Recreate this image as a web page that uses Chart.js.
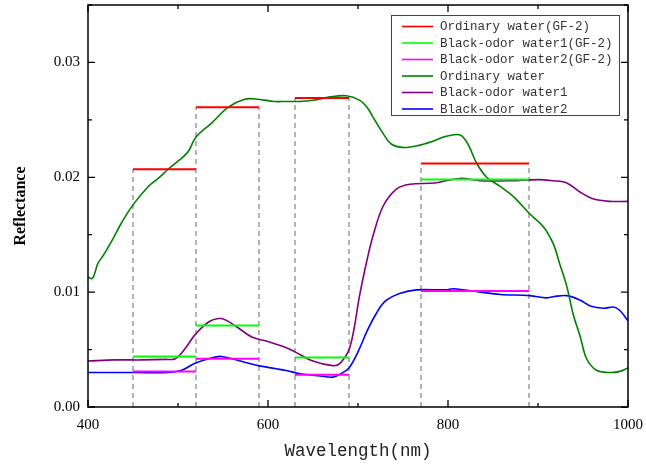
<!DOCTYPE html>
<html>
<head>
<meta charset="utf-8">
<script src="https://cdn.jsdelivr.net/npm/chart.js@4.4.0/dist/chart.umd.min.js"></script>
<style>
html,body{margin:0;padding:0;background:#fff;}
#wrap{width:646px;height:466px;position:relative;}
</style>
</head>
<body>
<div id="wrap"><canvas id="c" width="646" height="466"></canvas></div>
<script>
// ---- Data ----
const bandStart = [450, 520, 630, 770];
const bandEnd   = [520, 590, 690, 890];
const ordinaryGF2 = [0.0207, 0.0261, 0.0269, 0.0212];
const blackOdor1GF2 = [0.0044, 0.0071, 0.0043, 0.0198];
const blackOdor2GF2 = [0.0031, 0.0042, 0.0028, 0.0101];

const ordinaryWl = [400,405,411,417,426,437,450,467,478,489,500,511,520,537,556,574,589,607,620,635,650,669,687,702,710,717,728,737,750,769,782,795,806,813,819,824,832,843,858,873,891,906,917,924,932,939,947,954,965,980,991,1000];
const ordinaryR  = [0.0113,0.0112,0.0125,0.0132,0.0144,0.0160,0.0176,0.0192,0.0199,0.0207,0.0214,0.0222,0.0235,0.0247,0.0261,0.0268,0.0268,0.0266,0.0266,0.0266,0.0267,0.0270,0.0271,0.0267,0.0261,0.0252,0.0238,0.0229,0.0226,0.0228,0.0231,0.0235,0.0237,0.0237,0.0233,0.0226,0.0212,0.0200,0.0192,0.0183,0.0168,0.0157,0.0142,0.0125,0.0105,0.0081,0.0061,0.0042,0.0032,0.0030,0.0031,0.0034];

const blackOdor1Wl = [400,430,460,486,497,508,519,534,548,563,582,600,619,630,650,672,680,691,702,710,717,728,743,758,785,813,836,870,900,917,932,947,962,980,1000];
const blackOdor1R  = [0.0040,0.0041,0.0041,0.00415,0.0042,0.0051,0.0063,0.0074,0.0077,0.0071,0.0061,0.0057,0.0052,0.0048,0.0040,0.0036,0.0038,0.0052,0.0098,0.0128,0.0150,0.0175,0.0190,0.0194,0.0195,0.0199,0.0197,0.0197,0.0198,0.0197,0.0195,0.0187,0.0181,0.0179,0.0179];

const blackOdor2Wl = [400,450,489,504,519,534,548,574,589,619,636,658,672,681,690,700,710,720,730,747,765,798,806,836,858,891,909,917,932,947,958,973,984,991,1000];
const blackOdor2R  = [0.0030,0.0030,0.0030,0.0032,0.0038,0.0042,0.0044,0.0039,0.0036,0.0032,0.0029,0.0027,0.0026,0.0029,0.0034,0.0048,0.0066,0.0081,0.0092,0.0099,0.0102,0.0102,0.0103,0.0100,0.0098,0.0097,0.0095,0.0096,0.0097,0.0093,0.0088,0.0086,0.0087,0.0084,0.0075];

const xTickLabels = [400, 600, 800, 1000];
const yTickLabels = [0.00, 0.01, 0.02, 0.03];

// ---- Build helpers ----
function pairs(xs, ys){ return xs.map((x,i)=>({x:x, y:ys[i]})); }
function segments(vals){
  const pts = [];
  bandStart.forEach((s,i)=>{
    pts.push({x:s, y:vals[i]}); pts.push({x:bandEnd[i], y:vals[i]}); pts.push({x:bandEnd[i], y:null});
  });
  return pts;
}
function dashedEdges(){
  const pts = [];
  bandStart.forEach((s,i)=>{
    const top = Math.max(ordinaryGF2[i], blackOdor1GF2[i], blackOdor2GF2[i]);
    [s, bandEnd[i]].forEach(x=>{
      pts.push({x:x, y:0}); pts.push({x:x, y:top}); pts.push({x:x, y:null});
    });
  });
  return pts;
}

const segStyle = {borderWidth:2, pointRadius:0, tension:0, spanGaps:false, fill:false, order:1};
const curveStyle = {borderWidth:1.6, pointRadius:0, tension:0.35, fill:false, order:2};

const datasets = [
  Object.assign({label:'Ordinary water(GF-2)', data:segments(ordinaryGF2), borderColor:'#ff0000'}, segStyle),
  Object.assign({label:'Black-odor water1(GF-2)', data:segments(blackOdor1GF2), borderColor:'#00ff00'}, segStyle),
  Object.assign({label:'Black-odor water2(GF-2)', data:segments(blackOdor2GF2), borderColor:'#ff00ff'}, segStyle),
  Object.assign({label:'Ordinary water', data:pairs(ordinaryWl, ordinaryR), borderColor:'#008000'}, curveStyle),
  Object.assign({label:'Black-odor water1', data:pairs(blackOdor1Wl, blackOdor1R), borderColor:'#800080'}, curveStyle),
  Object.assign({label:'Black-odor water2', data:pairs(blackOdor2Wl, blackOdor2R), borderColor:'#0000ff'}, curveStyle),
  {label:'', data:dashedEdges(), borderColor:'#8c8c8c', borderWidth:1.3, borderDash:[5,4], pointRadius:0, tension:0, spanGaps:false, order:3, isEdge:true}
];

// ---- Plugin: frame, inward ticks, legend ----
const framePlugin = {
  id:'frame',
  afterDraw(chart){
    const ctx = chart.ctx;
    const a = chart.chartArea;
    const xs = chart.scales.x, ys = chart.scales.y;
    ctx.save();
    ctx.strokeStyle = '#000';
    ctx.lineWidth = 1.5;
    ctx.strokeRect(a.left, a.top, a.right - a.left, a.bottom - a.top);
    ctx.lineWidth = 1.3;
    for (let v = 400; v <= 1000; v += 100) {
      const px = xs.getPixelForValue(v);
      const len = (v % 200 === 0) ? 7 : 4;
      ctx.beginPath();
      ctx.moveTo(px, a.bottom); ctx.lineTo(px, a.bottom - len);
      ctx.moveTo(px, a.top); ctx.lineTo(px, a.top + len);
      ctx.stroke();
    }
    for (let k = 0; k <= 7; k++) {
      const v = k * 0.005;
      const py = ys.getPixelForValue(v);
      const len = (k % 2 === 0) ? 7 : 4;
      ctx.beginPath();
      ctx.moveTo(a.left, py); ctx.lineTo(a.left + len, py);
      ctx.moveTo(a.right, py); ctx.lineTo(a.right - len, py);
      ctx.stroke();
    }
    // legend
    const items = chart.data.datasets.filter(d => !d.isEdge);
    const bx = 391.5, by = 15.5, bw = 228, bh = 100;
    ctx.fillStyle = '#fff';
    ctx.fillRect(bx, by, bw, bh);
    ctx.strokeStyle = '#444';
    ctx.lineWidth = 1;
    ctx.strokeRect(bx, by, bw, bh);
    ctx.font = '12.5px "Liberation Mono", monospace';
    ctx.textBaseline = 'middle';
    ctx.textAlign = 'left';
    items.forEach((d, i) => {
      const y = 26.5 + i * 16.5;
      ctx.strokeStyle = d.borderColor;
      ctx.lineWidth = 1.6;
      ctx.beginPath(); ctx.moveTo(402, y); ctx.lineTo(433, y); ctx.stroke();
      ctx.fillStyle = '#333';
      ctx.fillText(d.label, 440, y + 0.5);
    });
    ctx.restore();
  }
};

new Chart(document.getElementById('c'), {
  type:'line',
  data:{datasets:datasets},
  options:{
    responsive:false,
    animation:false,
    events:[],
    layout:{padding:{top:5, right:18, left:0, bottom:0}},
    plugins:{legend:{display:false}, tooltip:{enabled:false}},
    scales:{
      x:{
        type:'linear', min:400, max:1000,
        afterFit(s){ s.height = 59; s.paddingLeft = 0; s.paddingRight = 0; },
        afterBuildTicks(s){ s.ticks = xTickLabels.map(v=>({value:v})); },
        grid:{display:false, drawTicks:false},
        border:{display:false},
        ticks:{color:'#000', padding:9, maxRotation:0, callback:(v)=>String(v), font:{family:'"Liberation Serif", serif', size:15}},
        title:{display:true, text:'Wavelength(nm)', color:'#222', padding:{top:0,bottom:4}, font:{family:'"Liberation Mono", monospace', size:17.5}}
      },
      y:{
        type:'linear', min:0, max:0.035,
        afterFit(s){ s.width = 88; s.paddingTop = 0; s.paddingBottom = 0; },
        afterBuildTicks(s){ s.ticks = yTickLabels.map(v=>({value:v})); },
        grid:{display:false, drawTicks:false},
        border:{display:false},
        ticks:{color:'#000', padding:8, callback:(v)=>Number(v).toFixed(2), font:{family:'"Liberation Serif", serif', size:15}},
        title:{display:true, text:'Reflectance', color:'#000', padding:{top:11,bottom:0}, font:{family:'"Liberation Serif", serif', size:16, weight:'bold'}}
      }
    }
  },
  plugins:[framePlugin]
});
</script>
</body>
</html>
